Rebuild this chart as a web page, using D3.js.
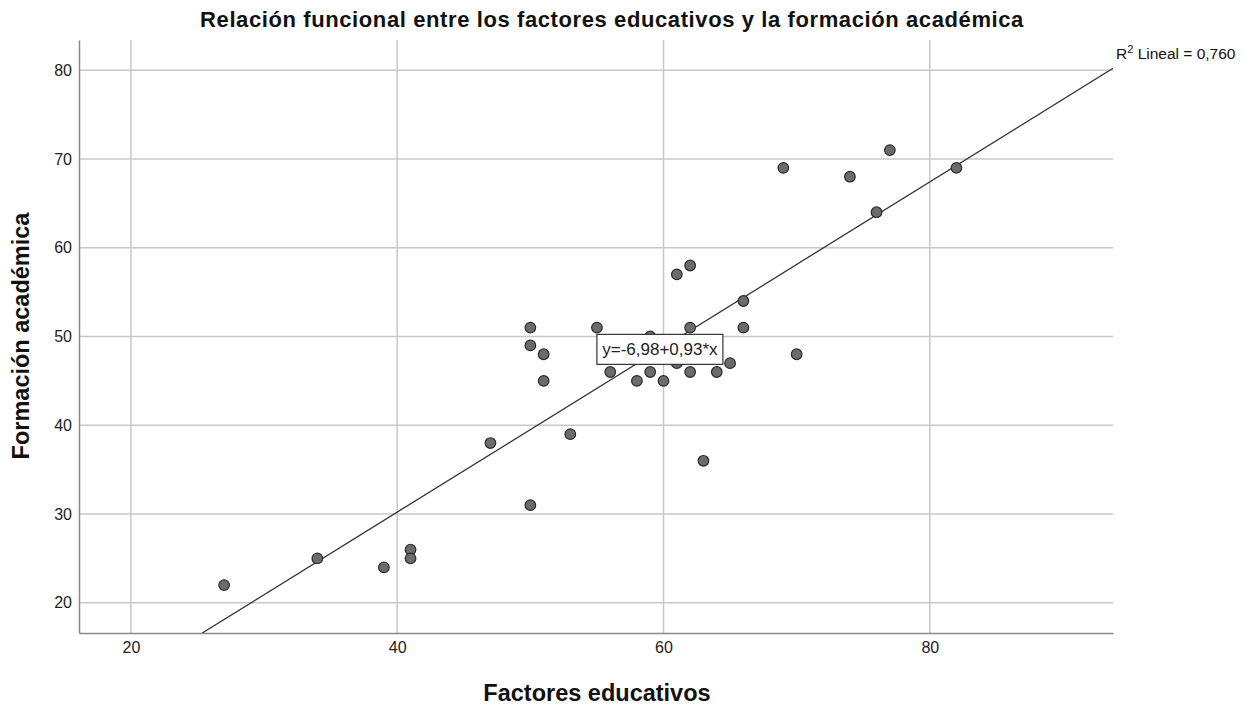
<!DOCTYPE html>
<html><head><meta charset="utf-8">
<script src="https://cdn.jsdelivr.net/npm/d3@7"></script>
<style>body{margin:0;background:#fff;}text{font-family:Arial,"Liberation Sans",sans-serif;}</style>
</head><body>
<svg id="c" width="1257" height="709"></svg>
<script>
const xVals = [27,34,39,41,41,47,50,50,50,51,51,53,55,56,58,59,59,60,61,61,62,62,62,63,64,65,66,66,69,70,74,76,77,82];
const yVals = [22,25,24,26,25,38,51,49,31,48,45,39,51,46,45,50,46,45,47,57,58,51,46,36,46,47,54,51,69,48,68,64,71,69];
const xTicks = [20,40,60,80];
const yTicks = [20,30,40,50,60,70,80];
const intercept = -6.98, slope = 0.93;
const eqLabel = "y=-6,98+0,93*x";
const r2Label = " Lineal = 0,760";
const title = "Relación funcional entre los factores educativos y la formación académica";
const xTitle = "Factores educativos", yTitle = "Formación académica";

const svg = d3.select("#c");
const L=79,R=1113,T=40,B=633;
const x = d3.scaleLinear().domain([16.1,93.76]).range([L,R]);
const y = d3.scaleLinear().domain([16.6,83.4]).range([B,T]);
const FF = "Arial,'Liberation Sans',sans-serif";

// grid
svg.append("g").selectAll("line").data(xTicks).join("line")
  .attr("x1",d=>x(d)).attr("x2",d=>x(d)).attr("y1",T).attr("y2",B)
  .attr("stroke","#c8c8c8").attr("stroke-width",1.5);
svg.append("g").selectAll("line").data(yTicks).join("line")
  .attr("y1",d=>y(d)).attr("y2",d=>y(d)).attr("x1",L).attr("x2",R)
  .attr("stroke","#c8c8c8").attr("stroke-width",1.5);

// axes
const xa = svg.append("g").attr("transform",`translate(0,${B})`)
  .call(d3.axisBottom(x).tickValues(xTicks).tickSize(0).tickPadding(9));
xa.select(".domain").attr("stroke","#888").attr("stroke-width",1.5);
xa.selectAll("text").attr("font-size",16).attr("fill","#222").attr("font-family",FF);
const ya = svg.append("g").attr("transform",`translate(${L},0)`)
  .call(d3.axisLeft(y).tickValues(yTicks).tickSize(0).tickPadding(7));
ya.select(".domain").attr("stroke","#888").attr("stroke-width",1.5);
ya.selectAll("text").attr("font-size",16).attr("fill","#222").attr("font-family",FF);

// fit line clipped
svg.append("clipPath").attr("id","cp").append("rect").attr("x",L).attr("y",T).attr("width",R-L).attr("height",B-T);
const x0 = (16.6-intercept)/slope, x1 = 93.76;
svg.append("line").attr("clip-path","url(#cp)")
  .attr("x1",x(x0)).attr("y1",y(intercept+slope*x0))
  .attr("x2",x(x1)).attr("y2",y(intercept+slope*x1))
  .attr("stroke","#333").attr("stroke-width",1.3);

// points
const pts = xVals.map((v,i)=>({x:v,y:yVals[i]}));
svg.append("g").selectAll("circle").data(pts).join("circle")
  .attr("cx",d=>x(d.x)).attr("cy",d=>y(d.y)).attr("r",5.3)
  .attr("fill","#6b6b6b").attr("stroke","#2a2a2a").attr("stroke-width",1.2);

// equation box
const ex = x(59.73), ey = y(48.55);
svg.append("rect").attr("x",ex-63).attr("y",ey-15).attr("width",126).attr("height",30)
  .attr("fill","#fff").attr("stroke","#333").attr("stroke-width",1.2);
svg.append("text").attr("x",ex).attr("y",ey+6).attr("text-anchor","middle")
  .attr("font-size",17).attr("fill","#222").text(eqLabel);

// R2 label
const rt = svg.append("text").attr("x",x(x1)+3).attr("y",y(81.3)).attr("font-size",15.5).attr("fill","#111");
rt.append("tspan").text("R");
rt.append("tspan").attr("font-size",11).attr("dy",-6).text("2");
rt.append("tspan").attr("dy",6).text(r2Label);

// titles
svg.append("text").attr("x",612).attr("y",27).attr("text-anchor","middle")
  .attr("font-size",22).attr("letter-spacing",0.6).attr("font-weight","bold").attr("fill","#111").text(title);
svg.append("text").attr("x",597).attr("y",701).attr("text-anchor","middle")
  .attr("font-size",23.5).attr("font-weight","bold").attr("fill","#111").text(xTitle);
svg.append("text").attr("transform","translate(29,336) rotate(-90)").attr("text-anchor","middle")
  .attr("font-size",23.5).attr("font-weight","bold").attr("fill","#111").text(yTitle);
</script>
</body></html>
